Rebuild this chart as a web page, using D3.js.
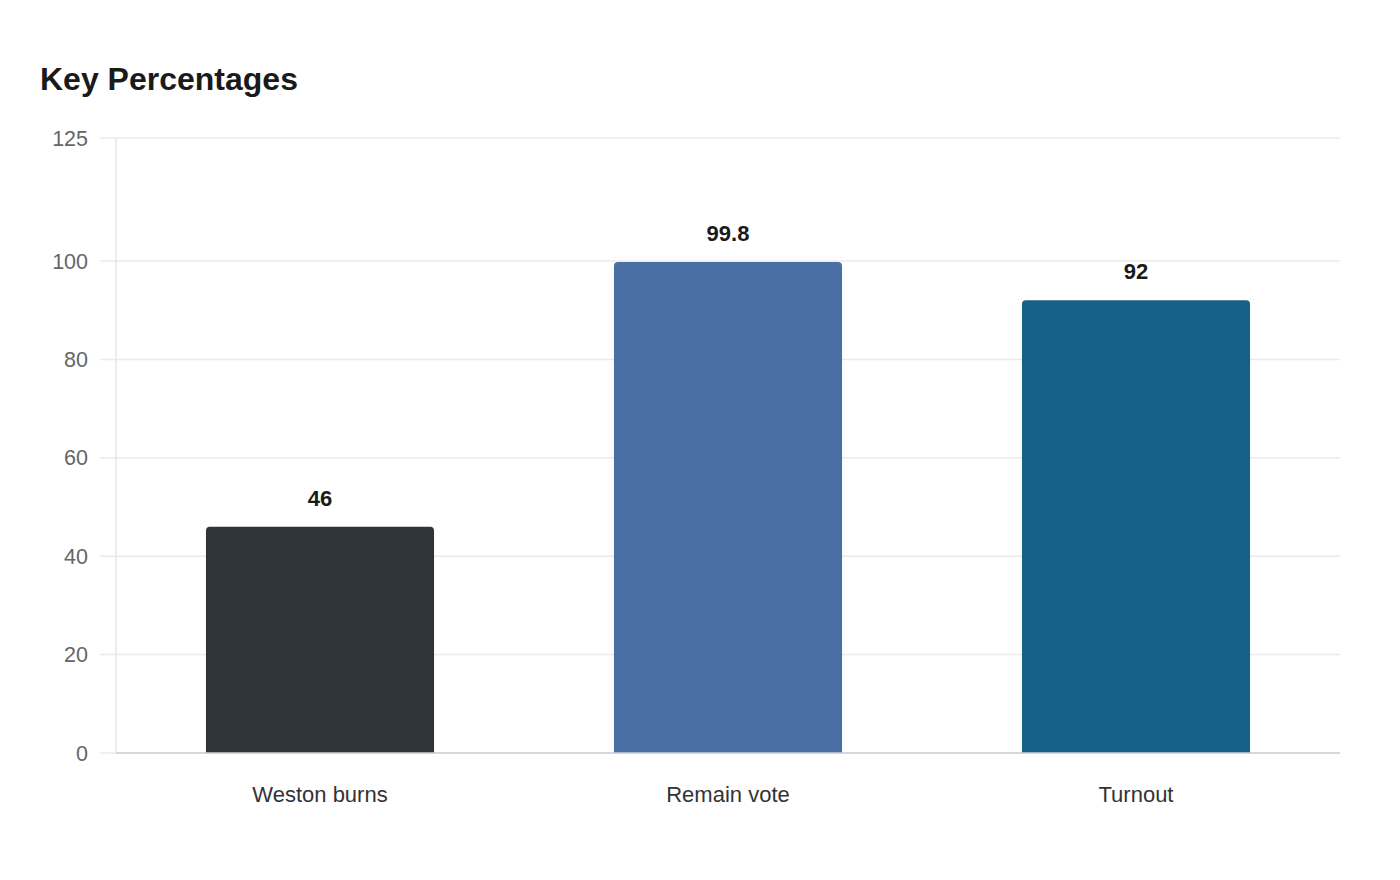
<!DOCTYPE html>
<html>
<head>
<meta charset="utf-8">
<script src="https://cdn.jsdelivr.net/npm/d3@7"></script>
<style>
  body { margin: 0; background: #fff; font-family: "Liberation Sans", Arial, sans-serif; }
</style>
</head>
<body>
<div id="chart"></div>
<script>
var categories = ["Weston burns", "Remain vote", "Turnout"],
    values = [46, 99.8, 92],
    colors = ["#2e3538", "#4a6fa5", "#176087"],
    y_ticks = [0, 20, 40, 60, 80, 100, 125]

var W = 1400, H = 880
var margin = {top: 138, right: 60, bottom: 127, left: 116}
var width = W - margin.left - margin.right,
    height = H - margin.top - margin.bottom

var svg = d3.select("#chart")
  .append("svg")
  .attr("width", W)
  .attr("height", H)

svg.append("text")
  .attr("x", 40)
  .attr("y", 90)
  .attr("font-size", 32)
  .attr("font-weight", "bold")
  .attr("fill", "#1a1a1a")
  .text("Key Percentages")

var g = svg.append("g")
  .attr("transform", "translate(" + margin.left + "," + margin.top + ")")

var x = d3.scaleBand()
  .domain(categories)
  .range([0, width])
  .paddingInner(0.441)
  .paddingOuter(0.2205)

var y = d3.scaleLinear()
  .domain([0, 125])
  .range([height, 0])

// gridlines
g.selectAll(".grid")
  .data(y_ticks)
  .enter()
  .append("line")
  .attr("class", "grid")
  .attr("x1", -16)
  .attr("x2", width)
  .attr("y1", function(d){return y(d)})
  .attr("y2", function(d){return y(d)})
  .attr("stroke", "#ebebeb")
  .attr("stroke-width", 1.5)

// y axis line
g.append("line")
  .attr("x1", 0).attr("x2", 0)
  .attr("y1", 0).attr("y2", height)
  .attr("stroke", "#dcdcdc")
  .attr("stroke-width", 1)

// y tick labels
g.selectAll(".ytick")
  .data(y_ticks)
  .enter()
  .append("text")
  .attr("class", "ytick")
  .attr("x", -28)
  .attr("y", function(d){return y(d)})
  .attr("dy", "0.35em")
  .attr("text-anchor", "end")
  .attr("font-size", 21.5)
  .attr("fill", "#666")
  .text(function(d){return d})

var data = categories.map(function(c, i){
  return {cat: c, value: values[i], color: colors[i]}
})

function bar_path(d){
  var x0 = x(d.cat), w = x.bandwidth(),
      y0 = y(d.value), y1 = y(0), r = 4
  return "M" + x0 + "," + y1 +
    "V" + (y0 + r) +
    "Q" + x0 + "," + y0 + " " + (x0 + r) + "," + y0 +
    "H" + (x0 + w - r) +
    "Q" + (x0 + w) + "," + y0 + " " + (x0 + w) + "," + (y0 + r) +
    "V" + y1 + "Z"
}

g.selectAll(".bar")
  .data(data)
  .enter()
  .append("path")
  .attr("class", "bar")
  .attr("d", bar_path)
  .attr("fill", function(d){return d.color})

// baseline
g.append("line")
  .attr("x1", 0).attr("x2", width)
  .attr("y1", height).attr("y2", height)
  .attr("stroke", "#ccd0d6")
  .attr("stroke-width", 1.5)

// value labels
g.selectAll(".val")
  .data(data)
  .enter()
  .append("text")
  .attr("class", "val")
  .attr("x", function(d){return x(d.cat) + x.bandwidth() / 2})
  .attr("y", function(d){return y(d.value) - 21})
  .attr("text-anchor", "middle")
  .attr("font-size", 22)
  .attr("font-weight", "bold")
  .attr("fill", "#1a1a1a")
  .text(function(d){return d.value})

// category labels
g.selectAll(".cat")
  .data(data)
  .enter()
  .append("text")
  .attr("class", "cat")
  .attr("x", function(d){return x(d.cat) + x.bandwidth() / 2})
  .attr("y", height + 49)
  .attr("text-anchor", "middle")
  .attr("font-size", 22)
  .attr("fill", "#333")
  .text(function(d){return d.cat})
</script>
</body>
</html>
